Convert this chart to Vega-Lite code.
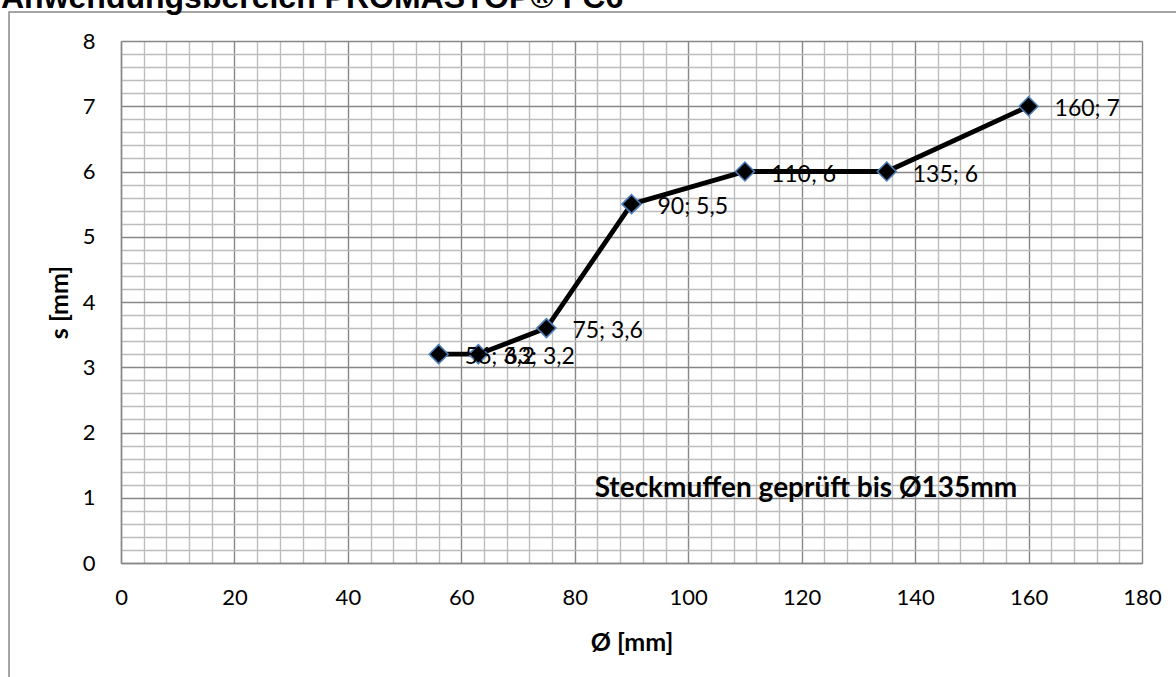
{
  "$schema": "https://vega.github.io/schema/vega-lite/v6.json",
  "width": 1021,
  "height": 522,
  "autosize": {"type": "none"},
  "padding": {"left": 121, "top": 41, "right": 34, "bottom": 114},
  "background": "white",
  "config": {"view": {"stroke": null}, "font": "Lato"},
  "title": {
    "text": "Anwendungsbereich PROMASTOP® FC6",
    "anchor": "start",
    "frame": "group",
    "dx": -120,
    "dy": 32,
    "offset": 3,
    "baseline": "alphabetic",
    "font": "Liberation Sans",
    "fontSize": 32,
    "fontWeight": "bold",
    "color": "black"
  },
  "data": {
    "values": [
      {"d": 56, "s": 3.2, "label": "56; 3,2"},
      {"d": 63, "s": 3.2, "label": "63; 3,2"},
      {"d": 75, "s": 3.6, "label": "75; 3,6"},
      {"d": 90, "s": 5.5, "label": "90; 5,5"},
      {"d": 110, "s": 6, "label": "110; 6"},
      {"d": 135, "s": 6, "label": "135; 6"},
      {"d": 160, "s": 7, "label": "160; 7"}
    ]
  },
  "encoding": {
    "x": {
      "field": "d", "type": "quantitative",
      "scale": {"domain": [0, 180], "nice": false, "zero": false},
      "axis": {
        "values": [0,4,8,12,16,20,24,28,32,36,40,44,48,52,56,60,64,68,72,76,80,84,88,92,96,100,104,108,112,116,120,124,128,132,136,140,144,148,152,156,160,164,168,172,176,180],
        "grid": true,
        "gridColor": {"condition": {"test": "datum.value % 20 === 0", "value": "#878787"}, "value": "#bdbdbd"},
        "gridWidth": 1.4,
        "ticks": false,
        "domainColor": "#878787",
        "domainWidth": 1.4,
        "labelExpr": "datum.value % 20 === 0 ? format(datum.value, 'd') : ''",
        "labelFont": "Lato",
        "labelFontSize": 22,
        "labelColor": "black",
        "labelPadding": 24,
        "labelOverlap": false,
        "labelFlush": false,
        "labelBound": false,
        "title": "Ø [mm]",
        "titleFont": "Lato",
        "titleFontSize": 25,
        "titleFontWeight": "bold",
        "titleColor": "black",
        "titleY": 79,
        "titleBaseline": "middle"
      }
    },
    "y": {
      "field": "s", "type": "quantitative",
      "scale": {"domain": [0, 8], "nice": false, "zero": false},
      "axis": {
        "values": [0,0.2,0.4,0.6,0.8,1,1.2,1.4,1.6,1.8,2,2.2,2.4,2.6,2.8,3,3.2,3.4,3.6,3.8,4,4.2,4.4,4.6,4.8,5,5.2,5.4,5.6,5.8,6,6.2,6.4,6.6,6.8,7,7.2,7.4,7.6,7.8,8],
        "grid": true,
        "gridColor": {"condition": {"test": "abs(datum.value - round(datum.value)) < 0.001", "value": "#878787"}, "value": "#bdbdbd"},
        "gridWidth": 1.4,
        "ticks": false,
        "domainColor": "#878787",
        "domainWidth": 1.4,
        "labelExpr": "abs(datum.value - round(datum.value)) < 0.001 ? format(datum.value, 'd') : ''",
        "labelFont": "Lato",
        "labelFontSize": 22,
        "labelColor": "black",
        "labelPadding": 26,
        "labelOverlap": false,
        "labelFlush": false,
        "labelBound": false,
        "title": "s [mm]",
        "titleFont": "Lato",
        "titleFontSize": 25,
        "titleFontWeight": "bold",
        "titleColor": "black",
        "titleX": -62,
        "titleY": 261,
        "titleBaseline": "middle"
      }
    }
  },
  "layer": [
    {
      "mark": {"type": "line", "color": "black", "strokeWidth": 4.8}
    },
    {
      "mark": {"type": "point", "shape": "diamond", "filled": true, "fill": "black", "stroke": "#4a7ebb", "strokeWidth": 1.6, "size": 360, "opacity": 1}
    },
    {
      "mark": {"type": "text", "align": "left", "baseline": "middle", "dx": 26, "dy": 3, "font": "Lato", "fontSize": 23, "color": "black"},
      "encoding": {
        "text": {"field": "label"}
      }
    },
    {
      "data": {"values": [{"d": 83.5, "s": 1.13, "note": "Steckmuffen geprüft bis Ø135mm"}]},
      "mark": {"type": "text", "align": "left", "baseline": "middle", "font": "Lato", "fontSize": 28, "fontWeight": "bold", "color": "black"},
      "encoding": {
        "text": {"field": "note"}
      }
    },
    {
      "data": {"values": [{"d": -19.74, "s": 8.444, "d2": 215, "s2": -3}]},
      "mark": {"type": "rect", "fill": null, "stroke": "#878787", "strokeWidth": 1.5, "clip": false},
      "encoding": {
        "x2": {"field": "d2"},
        "y2": {"field": "s2"}
      }
    }
  ]
}
